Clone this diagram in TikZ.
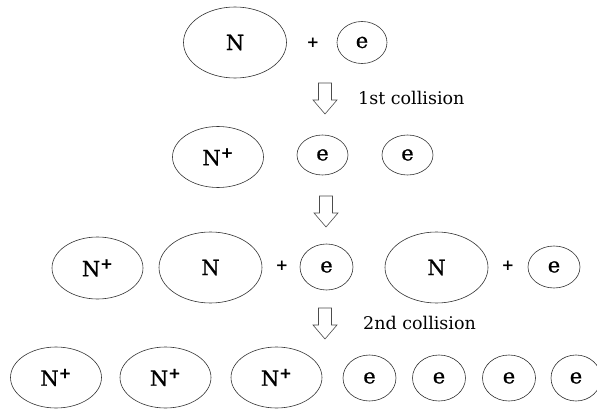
\documentclass[tikz,border=0pt]{standalone}
\usepackage{fontspec}
\setmainfont{DejaVu Serif}
\newfontfamily\lblfont[FakeBold=0.8]{DejaVu Serif}
\usetikzlibrary{shapes.geometric}
\tikzset{
 blob/.style={ellipse, draw=black!80, line width=0.6pt, inner sep=0pt, font=\lblfont\fontsize{21}{25}\selectfont},
 ion/.style={blob, minimum width=91pt, minimum height=61pt},
 atom/.style={blob, minimum width=103pt, minimum height=71pt},
 elec/.style={blob, minimum width=52pt, minimum height=44pt},
 plussign/.style={font=\bfseries\fontsize{15}{17}\selectfont, inner sep=0pt},
 lbl/.style={font=\fontsize{17.5}{20}\selectfont, anchor=west, inner sep=0pt},
 pics/downarr/.style={code={\draw[draw=black!70, fill=white, line width=0.6pt] (-6.5,0) -- (6.5,0) -- (6.5,17) -- (12,17) -- (0,31) -- (-12,17) -- (-6.5,17) -- cycle;}}
}
\newcommand{\Nplus}{N\textsuperscript{\bfseries +}}
\begin{document}
\begin{tikzpicture}[x=1pt,y=-1pt]
\useasboundingbox[fill=white] (0,0) rectangle (597,409);
% row 1
\node[atom] (n1) at (235,42.5) {N};
\node[plussign] (p1) at (313,43) {+};
\node[elec, minimum width=50pt, minimum height=42pt] (e1) at (362,42.5) {e};
\pic at (325,83) {downarr};
\node[lbl] (c1) at (358,98) {1st collision};
% row 2
\node[ion] (n2) at (218,157) {\Nplus};
\node[elec, minimum width=51pt, minimum height=40pt] (e2a) at (322.5,155) {e};
\node[elec, minimum width=51pt, minimum height=40pt] (e2b) at (407.5,155) {e};
\pic at (326,196) {downarr};
% row 3
\node[ion, minimum height=62pt] (n3a) at (97.5,268) {\Nplus};
\node[atom] (n3b) at (210.5,267.5) {N};
\node[plussign] (p3a) at (282,266) {+};
\node[elec, minimum width=53pt, minimum height=46pt] (e3a) at (326.5,267) {e};
\node[atom] (n3c) at (436.5,267.5) {N};
\node[plussign] (p3b) at (508,266) {+};
\node[elec, minimum width=52pt, minimum height=42pt] (e3b) at (554,267) {e};
\pic at (325,308) {downarr};
\node[lbl] (c2) at (363,323) {2nd collision};
% row 4
\node[ion] (n4a) at (56,377.5) {\Nplus};
\node[ion] (n4b) at (165.5,377.5) {\Nplus};
\node[ion] (n4c) at (276.5,377.5) {\Nplus};
\node[elec, minimum width=53pt, minimum height=46pt] (e4a) at (369.5,378) {e};
\node[elec, minimum width=53pt, minimum height=46pt] (e4b) at (439,378) {e};
\node[elec, minimum width=53pt, minimum height=46pt] (e4c) at (509,378) {e};
\node[elec, minimum width=50pt, minimum height=46pt] (e4d) at (576,378) {e};
\end{tikzpicture}
\end{document}
